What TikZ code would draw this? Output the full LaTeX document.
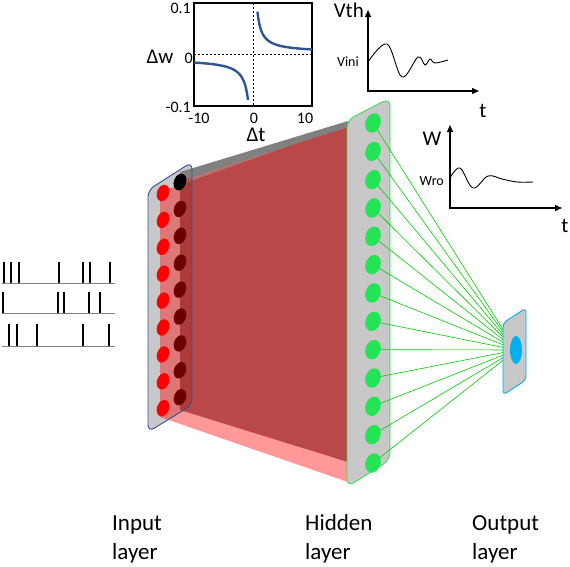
\documentclass[tikz,border=0pt]{standalone}
\usepackage{fontspec}
\setmainfont{Carlito}
\usetikzlibrary{shapes.geometric,arrows.meta}

\definecolor{panelgray}{RGB}{200,200,200}
\definecolor{inblue}{RGB}{47,82,143}
\definecolor{hidgreen}{RGB}{34,228,84}
\definecolor{wiregreen}{RGB}{0,205,0}
\definecolor{outcyan}{RGB}{0,176,240}
\definecolor{curveblue}{RGB}{47,85,151}
\definecolor{darkface}{RGB}{140,20,20}
\definecolor{darkdot}{RGB}{110,0,0}

\pgfdeclarelayer{front}
\pgfsetlayers{main,front}

\tikzset{
  dot/.style={ellipse, inner sep=0pt, outer sep=0pt, rotate=-20},
  indot/.style={dot, minimum width=12pt, minimum height=17pt, fill=red},
  backdot/.style={dot, minimum width=12pt, minimum height=17pt, fill=darkdot},
  hiddot/.style={dot, minimum width=15pt, minimum height=20pt, fill=hidgreen},
  wire/.style={wiregreen, line width=0.6pt},
  spike/.style={line width=2.6pt},
  axis/.style={line width=1.3pt, {Triangle[length=7pt,width=6pt]}-{Triangle[length=7pt,width=6pt]}},
  lbl/.style={inner sep=0pt, font=\fontsize{21}{25}\selectfont},
  tick/.style={inner sep=0pt, font=\fontsize{16}{19}\selectfont},
  small/.style={inner sep=0pt, font=\fontsize{14}{17}\selectfont},
  layername/.style={inner sep=0pt, anchor=west, align=left, font=\fontsize{23}{29}\selectfont}
}

\begin{document}
\begin{tikzpicture}[x=1pt, y=-1pt]
\useasboundingbox (0,0) rectangle (570,566);

% spike trains
\draw[gray, line width=1pt] (2,283) -- (115,283) (2,313) -- (115,313) (2,346) -- (115,346);
\foreach \s in {4,11,19,59,83,90,110} \draw[spike] (\s,262) -- (\s,283);
\foreach \s in {3,58,64,89,100} \draw[spike] (\s,292) -- (\s,313);
\foreach \s in {9,17,37,83,109} \draw[spike] (\s,324) -- (\s,346);

% STDP window
\draw[line width=1.1pt] (194,3) rectangle (312,106);
\draw[dash pattern=on 2pt off 2pt, line width=0.8pt] (194,54) -- (312,54) (253,3) -- (253,106);
\begin{scope}[shift={(253,54)}, x=5.9pt, y=510pt]
  \draw[curveblue, line width=2.4pt] plot[domain=0.75:10, samples=60] (\x, {0.003+0.06/\x});
  \draw[curveblue, line width=2.4pt] plot[domain=-10:-0.85, samples=60] (\x, {-0.01-0.068/abs(\x)});
\end{scope}
\node[tick, anchor=east] (p1) at (191,8) {0.1};
\node[tick, anchor=east] (p0) at (193,58) {0};
\node[tick, anchor=east] (m1) at (191,107) {-0.1};
\node[tick] (xm) at (199,118) {-10};
\node[tick] (x0) at (254,118) {0};
\node[tick] (xp) at (305,118) {10};
\node[lbl] (dt) at (256,135) {Δt};
\node[lbl] (dw) at (160,57) {Δw};

% threshold trace
\draw[axis] (368,10) -- (368,91) -- (479,91);
\draw[line width=0.9pt] plot[smooth, tension=0.6] coordinates
  {(368,62) (387,44) (402,77) (418,57) (425,65) (430,59) (435,63) (448,60)};
\node[lbl, anchor=east] (vth) at (364,10) {Vth};
\node[small, anchor=east] (vini) at (359,62) {Vini};
\node[lbl] (tv) at (483,111) {t};

% readout weight trace
\draw[axis] (450,125) -- (450,208) -- (562,208);
\draw[line width=0.9pt] plot[smooth, tension=0.6] coordinates
  {(450,178) (460,168) (473,188) (488,176) (502,179) (517,182) (533,182)};
\node[lbl] (w) at (432,139) {W};
\node[small, anchor=east] (wro) at (444,181) {Wro};
\node[lbl] (tw) at (565,226) {t};

% input layer with projection
\fill[panelgray, rounded corners=7pt] (148,190) -- (192,162) -- (192,405) -- (148,432) -- cycle;
\fill[red, opacity=0.4] (160,192) -- (348,125) -- (348,482) -- (160,417) -- cycle;
\fill[darkface, opacity=0.6] (180,178) -- (348,127) -- (348,462) -- (180,410) -- cycle;
\fill[gray] (180,172) -- (348,121) -- (348,127) -- (182,180) -- cycle;
\foreach \i in {1,...,9} {
  \node[indot] (i\i) at (163,{193+26.9*(\i-1)}) {};
  \node[backdot] (b\i) at (180,{182+26.9*(\i-1)}) {};
}
\node[backdot, fill=black] at (b1) {};
\draw[inblue, line width=0.9pt, rounded corners=7pt] (148,190) -- (192,162) -- (192,405) -- (148,432) -- cycle;

% hidden layer
\filldraw[fill=panelgray, draw=hidgreen, line width=0.8pt, rounded corners=8pt]
  (347,120) -- (390,98) -- (390,460) -- (347,487) -- cycle;
\foreach \i in {1,...,13}
  \node[hiddot] (h\i) at (373,{123+28.33*(\i-1)}) {};

% output layer
\begin{pgfonlayer}{front}
\filldraw[fill=panelgray, draw=outcyan, line width=0.9pt, rounded corners=4pt]
  (503,323) -- (526,308) -- (526,380) -- (503,395) -- cycle;
\node[ellipse, inner sep=0pt, fill=outcyan, minimum width=12pt, minimum height=28pt] (out) at (516,350) {};
\end{pgfonlayer}
\foreach \i in {1,...,13}
  \draw[wire] (h\i) -- (out);

% layer names
\node[layername] (inp) at (112,539) {Input\\layer};
\node[layername] (hid) at (305,539) {Hidden\\layer};
\node[layername] (outp) at (472,539) {Output\\layer};
\end{tikzpicture}
\end{document}
